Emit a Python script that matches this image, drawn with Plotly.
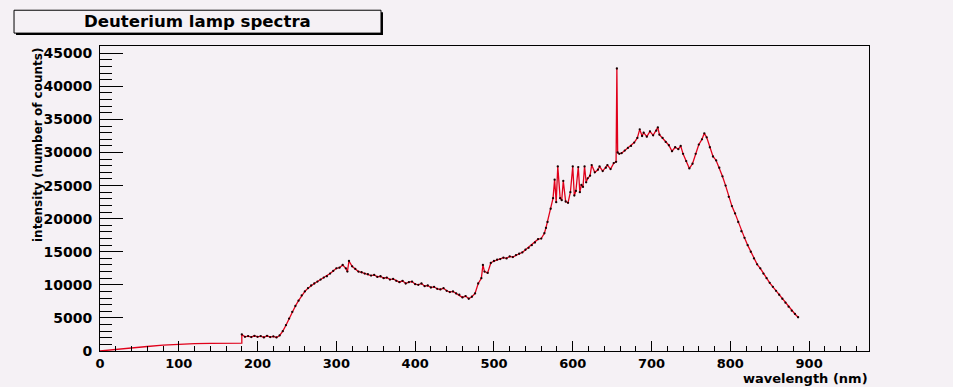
import plotly.graph_objects as go

# Low-wavelength part of the deuterium lamp spectrum (drawn as a plain line)
uv_wavelength = [0, 20, 40, 60, 80, 100, 120, 140, 160, 180]
uv_counts = [0, 250, 450, 680, 880, 1050, 1120, 1160, 1190, 1200]

# Measured spectrum, wavelength in nm and intensity in counts
wavelength = [
    180, 184, 188, 192, 196, 200, 204, 208, 212, 216, 220, 224, 228,
    232, 236, 240, 244, 248, 252, 256, 260, 264, 268, 272, 276, 280,
    284, 288, 292, 296, 300, 304, 308, 312, 314, 316, 320, 324, 328,
    332, 336, 340, 344, 348, 352, 356, 360, 364, 368, 372, 376, 380,
    384, 388, 392, 396, 400, 404, 408, 412, 416, 420, 424, 428, 432,
    436, 440, 444, 448, 452, 456, 460, 464, 468, 472, 476, 480, 484,
    486, 488, 492, 496, 500, 504, 508, 512, 516, 520, 524, 528, 532,
    536, 540, 544, 548, 552, 556, 560, 564, 566, 568, 572, 575, 577,
    579, 581, 584, 586, 588, 591, 594, 597, 600, 602, 604, 607, 609,
    611, 613, 615, 617, 619, 622, 624, 628, 632, 634, 638, 642, 644,
    648, 652, 655, 656, 657, 659, 662, 666, 670, 674, 678, 682, 685,
    688, 690, 694, 698, 702, 706, 708, 710, 714, 718, 722, 726, 730,
    734, 737, 740, 744, 748, 752, 756, 760, 764, 767, 770, 774, 778,
    782, 786, 790, 794, 798, 802, 806, 810, 814, 818, 822, 826, 830,
    834, 838, 842, 846, 850, 854, 858, 862, 866, 870, 874, 878, 882,
    886,
]
counts = [
    2500, 2150, 2250, 2100, 2300, 2150, 2250, 2050, 2300, 2100, 2200, 2050, 2350,
    3000, 3900, 4900, 5900, 6800, 7600, 8400, 9000, 9500, 9900, 10200, 10500, 10800,
    11100, 11300, 11700, 12100, 12500, 12600, 13000, 12500, 12000, 13600, 12800, 12400, 12000,
    11900, 11700, 11600, 11400, 11500, 11200, 11300, 11000, 11100, 10800, 10900, 10600, 10400,
    10600, 10200, 10400, 10500, 10100, 10000, 10200, 9800, 9900, 9600, 9700, 9400, 9300,
    9500, 9100, 8900, 9000, 8700, 8500, 8100, 8300, 7900, 8200, 8700, 10200, 11000,
    13000, 12000, 11800, 13300, 13600, 13800, 13900, 14100, 14000, 14300, 14200, 14500, 14700,
    14900, 15300, 15600, 16000, 16400, 16900, 17000, 17800, 18600, 19500, 21500, 23100, 25900,
    22500, 27900, 23100, 22800, 25700, 22600, 22400, 24000, 27900, 23500, 24200, 27800, 24000,
    25100, 24800, 27900, 25500, 26100, 26500, 28100, 27000, 27400, 27900, 27200, 27700, 28100,
    27500, 28400, 28600, 42700, 30000, 29800, 29900, 30300, 30700, 31000, 31500, 32200, 33500,
    32500, 33000, 32400, 33200, 32600, 33300, 33800, 32700, 32200, 31600, 31100, 30200, 30800,
    30500, 31000, 29800, 28700, 27600, 28300, 29800, 31200, 32000, 32900, 32300, 30800, 29400,
    28800, 27700, 26400, 25000, 23300, 21900, 20800, 19500, 18100, 17100, 16000, 15000, 14000,
    13100, 12500, 11700, 11000, 10300, 9700, 9100, 8500, 7900, 7300, 6700, 6100, 5600,
    5100,
]

x_ticks = [0, 100, 200, 300, 400, 500, 600, 700, 800, 900]
y_ticks = [0, 5000, 10000, 15000, 20000, 25000, 30000, 35000, 40000, 45000]

BG = "#f5f1f5"
FONT = "DejaVu Sans"

fig = go.Figure()

# red connecting line over the whole range
fig.add_trace(go.Scatter(
    x=uv_wavelength + wavelength,
    y=uv_counts + counts,
    mode="lines",
    line=dict(color="#e0001a", width=1.3),
    hoverinfo="skip",
))
# black bin markers of the measured spectrum
fig.add_trace(go.Scatter(
    x=wavelength,
    y=counts,
    mode="markers",
    marker=dict(color="#1a0000", size=2.3, line=dict(width=0)),
    hoverinfo="skip",
))

axis_common = dict(
    showgrid=False,
    zeroline=False,
    showline=True,
    mirror=True,
    linecolor="black",
    linewidth=1,
    ticks="inside",
    tickcolor="black",
)

fig.update_layout(
    width=953,
    height=387,
    margin=dict(l=100, r=84, t=46, b=36),
    paper_bgcolor=BG,
    plot_bgcolor=BG,
    showlegend=False,
    xaxis=dict(
        range=[0, 976],
        tickvals=x_ticks,
        ticktext=[str(v) for v in x_ticks],
        ticklen=10,
        tickwidth=1,
        tickfont=dict(family=FONT, size=13, color="black", weight="bold"),
        minor=dict(dtick=20, tick0=0, ticklen=5, ticks="inside", tickcolor="black"),
        **axis_common,
    ),
    yaxis=dict(
        range=[0, 46100],
        tickvals=y_ticks,
        ticktext=[str(v) for v in y_ticks],
        ticklen=23,
        tickwidth=1,
        ticklabelstandoff=4,
        tickfont=dict(family=FONT, size=14, color="black", weight="bold"),
        minor=dict(dtick=1000, tick0=0, ticklen=12, ticks="inside", tickcolor="black"),
        **axis_common,
    ),
    shapes=[
        # title box shadow and frame
        dict(type="rect", xref="paper", yref="paper",
             x0=-0.1092, x1=0.3680, y0=1.0358, y1=1.1108,
             line=dict(width=0), fillcolor="black", layer="above"),
        dict(type="rect", xref="paper", yref="paper",
             x0=-0.1118, x1=0.3654, y0=1.0423, y1=1.1173,
             line=dict(color="black", width=1), fillcolor=BG, layer="above"),
    ],
    annotations=[
        dict(text="Deuterium lamp spectra", xref="paper", yref="paper",
             x=0.1268, y=1.080, xanchor="center", yanchor="middle",
             showarrow=False,
             font=dict(family=FONT, size=16.6, color="black", weight="bold")),
        dict(text="wavelength (nm)", xref="paper", yref="paper",
             x=1.0, y=-0.1178, xanchor="right", yanchor="bottom",
             showarrow=False, borderpad=0,
             font=dict(family=FONT, size=13, color="black", weight="bold")),
        dict(text="intensity (number of counts)", xref="paper", yref="paper",
             x=-0.0806, y=1.0, xanchor="center", yanchor="top",
             textangle=-90, showarrow=False,
             font=dict(family=FONT, size=12, color="black", weight="bold")),
    ],
)

fig.write_html("out.html")
